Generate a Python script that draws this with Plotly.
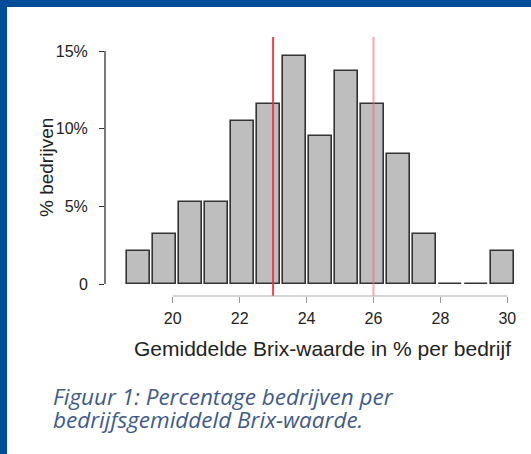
import plotly.graph_objects as go

# Data
bins = list(range(1, 16))  # bar (bin) index
pct = [2.1, 3.2, 5.3, 5.3, 10.5, 11.6, 14.7, 9.5, 13.7, 11.6, 8.4, 3.2, 0, 0, 2.1]
x_ticks = [20, 22, 24, 26, 28, 30]
y_ticks = [0, 5, 10, 15]
y_ticktext = ["0", "5%", "10%", "15%"]
cutoffs = [23, 26]
cutoff_colors = ["rgba(232,50,65,0.9)", "rgba(238,110,125,0.6)"]

W, H = 531, 454
L, R, T, B = 105, 11, 37, 158
pw, ph = W - L - R, H - T - B

def px2x(px):
    return (px - L) / pw

def py2y(py):
    return (H - B - py) / ph

FONT = "Liberation Sans, Arial, sans-serif"
BLUE = "#014d98"

fig = go.Figure()
fig.add_trace(go.Bar(
    x=bins, y=pct, xaxis="x2", yaxis="y",
    width=0.884,
    marker=dict(color="#bebebe", line=dict(color="#333333", width=1.6)),
    hoverinfo="skip",
))

shapes = []
for v, c in zip(cutoffs, cutoff_colors):
    shapes.append(dict(type="line", xref="x", yref="paper", x0=v, x1=v, y0=0, y1=1,
                       line=dict(color=c, width=2), layer="above"))
# R-style axis lines
shapes.append(dict(type="line", xref="x", yref="paper", x0=x_ticks[0], x1=x_ticks[-1], y0=0, y1=0,
                   line=dict(color="#aaaaaa", width=1)))
shapes.append(dict(type="line", xref="paper", yref="paper", x0=0, x1=0, y0=py2y(284), y1=py2y(51),
                   line=dict(color="#333333", width=1.3)))
# Blue frame (top and left)
shapes.append(dict(type="rect", xref="paper", yref="paper", x0=px2x(-5), x1=px2x(W + 5), y0=py2y(7), y1=py2y(-5),
                   fillcolor=BLUE, line=dict(width=0), layer="above"))
shapes.append(dict(type="rect", xref="paper", yref="paper", x0=px2x(-5), x1=px2x(7), y0=py2y(H + 5), y1=py2y(-5),
                   fillcolor=BLUE, line=dict(width=0), layer="above"))

CAP = dict(family="Open Sans, sans-serif", size=22.5, color="#3f5b86")
annotations = [
    dict(text="% bedrijven", xref="paper", yref="paper", x=px2x(46), y=py2y(168), textangle=-90,
         showarrow=False, font=dict(family=FONT, size=19, color="#222222"), xanchor="center", yanchor="middle"),
    dict(text="Gemiddelde Brix-waarde in % per bedrijf", xref="paper", yref="paper", x=px2x(322), y=py2y(348),
         showarrow=False, font=dict(family=FONT, size=21, color="#222222"), xanchor="center", yanchor="middle"),
    dict(text="<i>Figuur 1: Percentage bedrijven per</i>", xref="paper", yref="paper", x=px2x(51), y=py2y(396),
         showarrow=False, font=CAP, xanchor="left", yanchor="middle"),
    dict(text="<i>bedrijfsgemiddeld Brix-waarde.</i>", xref="paper", yref="paper", x=px2x(51), y=py2y(419),
         showarrow=False, font=CAP, xanchor="left", yanchor="middle"),
]

fig.update_layout(
    width=W, height=H,
    margin=dict(l=L, r=R, t=T, b=B, pad=0),
    paper_bgcolor="white", plot_bgcolor="white",
    showlegend=False,
    bargap=0,
    xaxis=dict(range=[20 + (L - 172.7) / 33.46, 20 + (W - R - 172.7) / 33.46],
               tickvals=x_ticks, ticks="outside", ticklen=6, tickcolor="#999999", tickwidth=1,
               showline=False, showgrid=False, zeroline=False, ticklabelstandoff=2,
               tickfont=dict(family=FONT, size=16, color="#222222")),
    xaxis2=dict(range=[1 + (L - 138.3) / 26.03, 1 + (W - R - 138.3) / 26.03], overlaying="x",
                visible=False, anchor="y"),
    yaxis=dict(range=[-(296 - 284) / 77.67 * 5, 15 + (51 - T) / 77.67 * 5],
               tickvals=y_ticks, ticktext=y_ticktext, ticks="outside", ticklen=5,
               tickcolor="#333333", tickwidth=1.2,
               showline=False, showgrid=False, zeroline=False, ticklabelstandoff=8,
               tickfont=dict(family=FONT, size=16, color="#222222")),
    shapes=shapes,
    annotations=annotations,
)

fig.write_html("out.html", config={"displayModeBar": False},
               post_script="document.body.style.margin='0px';document.body.style.overflow='hidden';")
